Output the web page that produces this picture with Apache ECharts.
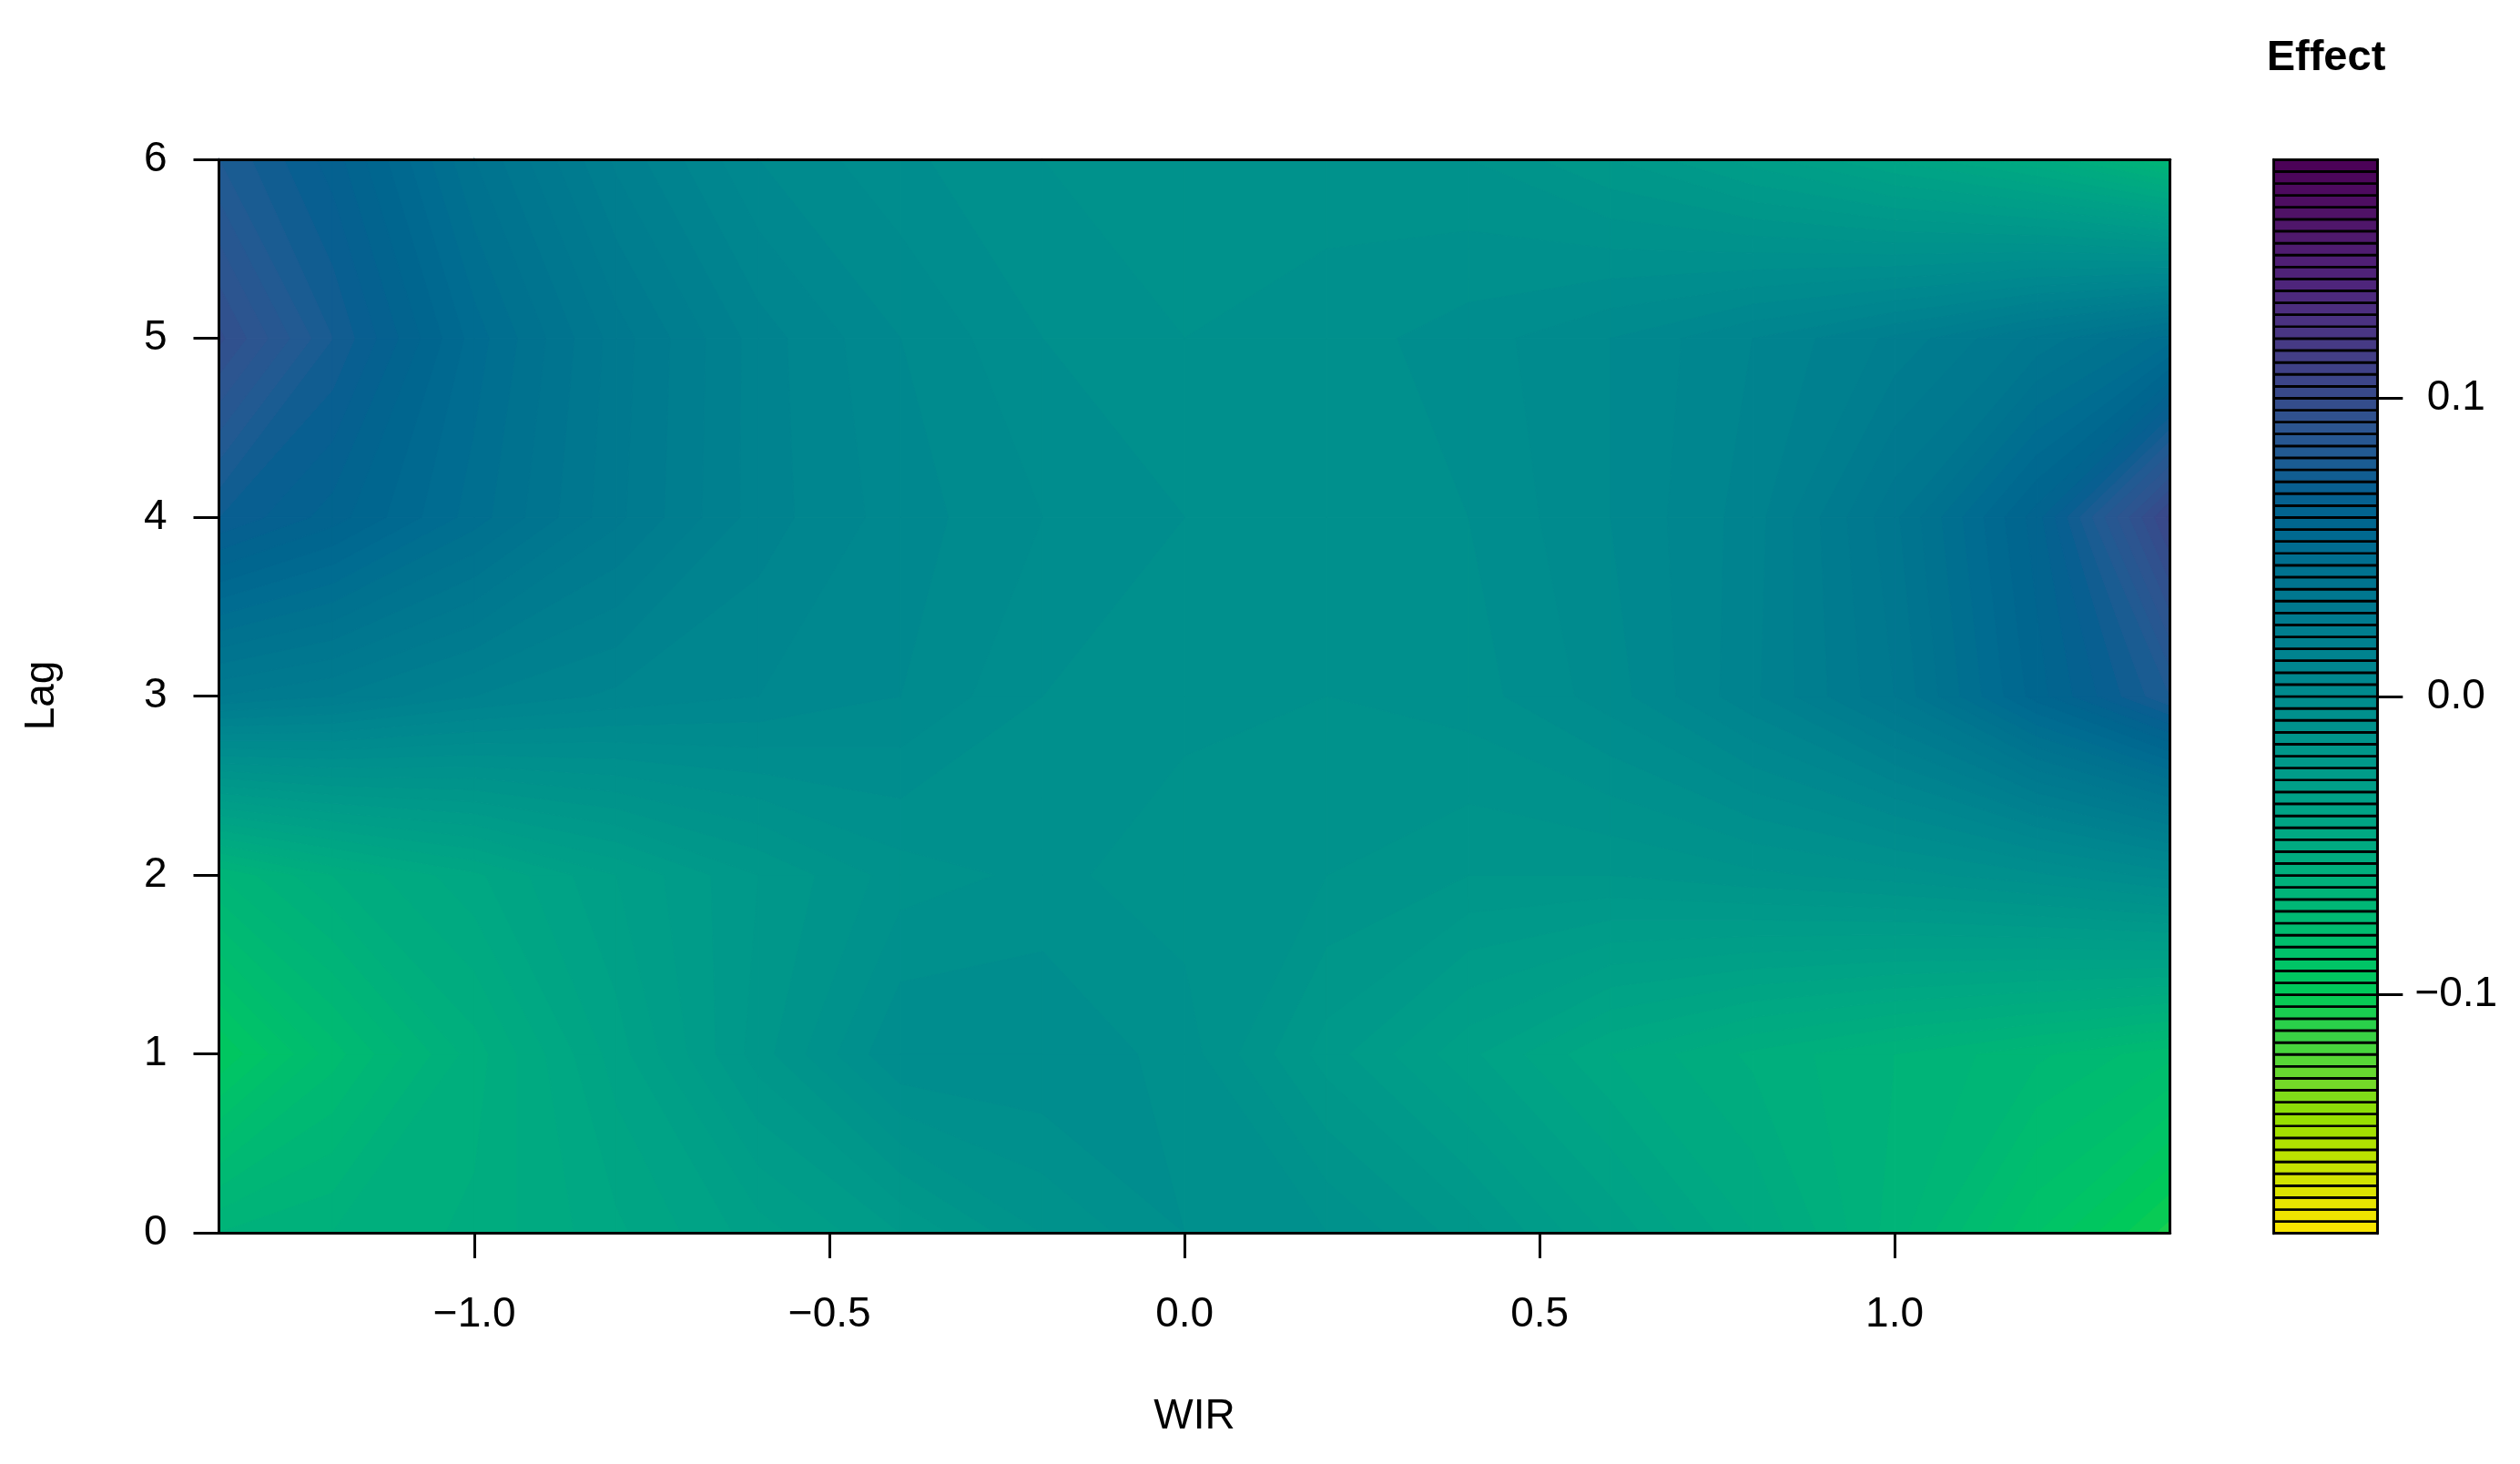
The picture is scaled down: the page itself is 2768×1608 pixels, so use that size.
<!DOCTYPE html>
<html><head><meta charset="utf-8">
<script src="https://cdn.jsdelivr.net/npm/echarts@6/dist/echarts.min.js"></script>
<style>html,body{margin:0;padding:0;background:#fff}#c{width:2768px;height:1608px}</style>
</head><body><div id="c"></div>
<script>
// ---------------- data ----------------
const wir  = [-1.36, -1.2, -1.0, -0.8, -0.6, -0.4, -0.2, 0.0, 0.2, 0.4, 0.6, 0.8, 1.0, 1.2, 1.388];
const lags = [0, 1, 2, 3, 4, 5, 6];
const effectLag0 = [-0.064, -0.060, -0.055, -0.045, -0.034, -0.024, -0.012, -0.004, -0.008, -0.018, -0.033, -0.048, -0.066, -0.088, -0.106];
const effectLag1 = [-0.096, -0.078, -0.058, -0.038, -0.018,  0.000,  0.000, -0.006, -0.022, -0.035, -0.048, -0.057, -0.064, -0.071, -0.079];
const effectLag2 = [-0.068, -0.056, -0.045, -0.032, -0.020, -0.010, -0.007, -0.010, -0.012, -0.016, -0.016, -0.013, -0.010, -0.005,  0.002];
const effectLag3 = [ 0.028,  0.024,  0.016,  0.011,  0.008,  0.004, -0.004, -0.007, -0.008, -0.006,  0.002,  0.015,  0.032,  0.058,  0.080];
const effectLag4 = [ 0.072,  0.062,  0.046,  0.029,  0.014,  0.006,  0.000, -0.004, -0.007, -0.004,  0.004,  0.014,  0.035,  0.062,  0.105];
const effectLag5 = [ 0.097,  0.076,  0.050,  0.030,  0.014,  0.004, -0.004, -0.008, -0.006, -0.002,  0.004,  0.012,  0.021,  0.033,  0.046];
const effectLag6 = [ 0.080,  0.066,  0.040,  0.019,  0.004, -0.003, -0.008, -0.010, -0.010, -0.012, -0.020, -0.030, -0.041, -0.052, -0.070];
const xTicks = [-1.0, -0.5, 0.0, 0.5, 1.0];
const yTicks = [0, 1, 2, 3, 4, 5, 6];
const keyTicks = [-0.1, 0.0, 0.1];
const levelMin = -0.18, levelMax = 0.18, levelStep = 0.004;
const xTitle = 'WIR', yTitle = 'Lag', keyTitle = 'Effect';
// colour key stops (value, colour)
const keyStopValues = [0.180, 0.160, 0.140, 0.120, 0.105, 0.090, 0.080, 0.070, 0.060, 0.050, 0.040, 0.030, 0.020, 0.010, 0.000,
  -0.010, -0.020, -0.030, -0.040, -0.050, -0.060, -0.070, -0.080, -0.090, -0.100, -0.110, -0.120, -0.130, -0.140, -0.150, -0.160, -0.170, -0.180];
const keyStopColors = ['#4b0055', '#4f1468', '#4f237a', '#483884', '#3b4689', '#2c5590', '#1f5b92', '#085f91', '#00658f', '#006c91', '#00738f', '#00798f', '#007f8f', '#00868f', '#008c8e',
  '#00928c', '#00988a', '#009e88', '#00a485', '#00aa81', '#00b07c', '#00b676', '#00bd6f', '#00c466', '#00ca58', '#2ad04a', '#50d63a', '#74da28', '#92de00', '#b0e200', '#cce300', '#e6e400', '#fce500'];

// ---------------- helpers ----------------
const rows = [effectLag0, effectLag1, effectLag2, effectLag3, effectLag4, effectLag5, effectLag6];
const nBands = Math.round((levelMax - levelMin) / levelStep);
const levels = [];
for (let k = 0; k <= nBands; k++) levels.push(+(levelMin + k * levelStep).toFixed(5));

function hexToRgb(h) { return [parseInt(h.slice(1, 3), 16), parseInt(h.slice(3, 5), 16), parseInt(h.slice(5, 7), 16)]; }
function colorAt(v) {
  const n = keyStopValues.length;
  for (let s = 0; s < n - 1; s++) {
    const a = keyStopValues[s], b = keyStopValues[s + 1];
    if ((v <= a && v >= b) || s === n - 2) {
      const t = Math.max(0, Math.min(1, (a - v) / (a - b)));
      const ca = hexToRgb(keyStopColors[s]), cb = hexToRgb(keyStopColors[s + 1]);
      const c = ca.map((x, q) => Math.round(x + (cb[q] - x) * t));
      return 'rgb(' + c.join(',') + ')';
    }
  }
  return keyStopColors[0];
}
const bandColors = [];
for (let k = 0; k < nBands; k++) bandColors.push(colorAt((levels[k] + levels[k + 1]) / 2));

function clipHalf(pts, f) {
  const res = [], n = pts.length;
  for (let k = 0; k < n; k++) {
    const a = pts[k], b = pts[(k + 1) % n];
    const fa = f(a), fb = f(b);
    if (fa >= 0) res.push(a);
    if ((fa >= 0) !== (fb >= 0)) {
      const t = fa / (fa - fb);
      res.push({ x: a.x + (b.x - a.x) * t, y: a.y + (b.y - a.y) * t, z: a.z + (b.z - a.z) * t });
    }
  }
  return res;
}

const cells = [];
for (let j = 0; j < lags.length - 1; j++)
  for (let i = 0; i < wir.length - 1; i++)
    cells.push([(wir[i] + wir[i + 1]) / 2, (lags[j] + lags[j + 1]) / 2, i, j]);

function renderCell(params, api) {
  const i = api.value(2), j = api.value(3);
  const xs = [wir[i], wir[i + 1]], ys = [lags[j], lags[j + 1]];
  const corners = [[0, 0], [1, 0], [1, 1], [0, 1]].map(([a, b]) => {
    const p = api.coord([xs[a], ys[b]]);
    return { x: p[0], y: p[1], z: rows[j + b][i + a] };
  });
  const zs = corners.map(c => c.z);
  const zmin = Math.min.apply(null, zs), zmax = Math.max.apply(null, zs);
  const children = [];
  for (let k = 0; k < nBands; k++) {
    const lo = levels[k], hi = levels[k + 1];
    if (hi < zmin || lo > zmax) continue;
    let poly = clipHalf(corners, p => p.z - lo);
    if (poly.length < 3) continue;
    poly = clipHalf(poly, p => hi - p.z);
    if (poly.length < 3) continue;
    children.push({
      type: 'polygon', silent: true,
      shape: { points: poly.map(p => [p.x, p.y]) },
      style: { fill: bandColors[k], stroke: bandColors[k], lineWidth: 1.2 }
    });
  }
  return { type: 'group', children };
}

const keyBands = [];
for (let k = 0; k < nBands; k++) keyBands.push([0.5, (levels[k] + levels[k + 1]) / 2, levels[k], levels[k + 1], k]);

function renderKey(params, api) {
  const lo = api.value(2), hi = api.value(3), k = api.value(4);
  const p1 = api.coord([0, hi]), p2 = api.coord([1, lo]);
  return {
    type: 'rect', silent: true,
    shape: { x: p1[0], y: p1[1], width: p2[0] - p1[0], height: p2[1] - p1[1] },
    style: { fill: bandColors[k], stroke: '#000', lineWidth: 2.7 }
  };
}

const FONT = '"Liberation Sans", Arial, Helvetica, sans-serif';
const fmtNum = (v, d) => (v < 0 ? '\u2212' : '') + Math.abs(v).toFixed(d);
const boxLine = { show: true, onZero: false, lineStyle: { color: '#000', width: 3 } };
const off = { show: false };

const option = {
  backgroundColor: '#ffffff',
  animation: false,
  grid: [
    { left: 240.5, top: 175.3, width: 2143.2, height: 1178.7, show: false },
    { left: 2497.5, top: 175.3, width: 113.8, height: 1179.4, show: false }
  ],
  xAxis: [
    { gridIndex: 0, type: 'value', min: -1.36, max: 1.388, position: 'bottom', z: 10,
      axisLine: boxLine, splitLine: off,
      axisTick: { show: true, customValues: xTicks, length: 28, lineStyle: { color: '#000', width: 3 } },
      axisLabel: { show: true, customValues: xTicks, margin: 90, verticalAlign: 'middle',
        formatter: v => fmtNum(v, 1), fontSize: 46, color: '#000', fontFamily: FONT } },
    { gridIndex: 0, type: 'value', min: -1.36, max: 1.388, position: 'top', z: 10,
      axisLine: boxLine, splitLine: off, axisTick: off, axisLabel: off },
    { gridIndex: 1, type: 'value', min: 0, max: 1, position: 'bottom', z: 10,
      axisLine: boxLine, splitLine: off, axisTick: off, axisLabel: off },
    { gridIndex: 1, type: 'value', min: 0, max: 1, position: 'top', z: 10,
      axisLine: boxLine, splitLine: off, axisTick: off, axisLabel: off }
  ],
  yAxis: [
    { gridIndex: 0, type: 'value', min: 0, max: 6, interval: 1, position: 'left', z: 10,
      axisLine: boxLine, splitLine: off,
      axisTick: { show: true, customValues: yTicks, length: 28, lineStyle: { color: '#000', width: 3 } },
      axisLabel: { show: true, customValues: yTicks, margin: 57, formatter: v => String(v),
        fontSize: 46, color: '#000', fontFamily: FONT } },
    { gridIndex: 0, type: 'value', min: 0, max: 6, position: 'right', z: 10,
      axisLine: boxLine, splitLine: off, axisTick: off, axisLabel: off },
    { gridIndex: 1, type: 'value', min: levelMin, max: levelMax, position: 'left', z: 10,
      axisLine: boxLine, splitLine: off, axisTick: off, axisLabel: off },
    { gridIndex: 1, type: 'value', min: levelMin, max: levelMax, position: 'right', z: 10,
      axisLine: boxLine, splitLine: off,
      axisTick: { show: true, customValues: keyTicks, length: 28, lineStyle: { color: '#000', width: 3 } },
      axisLabel: { show: true, customValues: keyTicks, margin: 86.5, align: 'center',
        formatter: v => fmtNum(v, 1), fontSize: 46, color: '#000', fontFamily: FONT } }
  ],
  series: [
    { type: 'custom', xAxisIndex: 0, yAxisIndex: 0, data: cells, encode: { x: 0, y: 1 },
      renderItem: renderCell, silent: true, z: 1 },
    { type: 'custom', xAxisIndex: 2, yAxisIndex: 2, data: keyBands, encode: { x: 0, y: 1 },
      renderItem: renderKey, silent: true, z: 1 }
  ],
  graphic: [
    { type: 'text', x: 1312, y: 1556, silent: true,
      style: { text: xTitle, fontSize: 46, fontFamily: FONT, fill: '#000', align: 'center', verticalAlign: 'middle' } },
    { type: 'text', x: 46, y: 764, rotation: Math.PI / 2, silent: true,
      style: { text: yTitle, fontSize: 46, fontFamily: FONT, fill: '#000', align: 'center', verticalAlign: 'middle' } },
    { type: 'text', x: 2555, y: 64, silent: true,
      style: { text: keyTitle, fontSize: 47, fontWeight: 'bold', fontFamily: FONT, fill: '#000', align: 'center', verticalAlign: 'middle' } }
  ]
};
const chart = echarts.init(document.getElementById('c'), null, { renderer: 'canvas', width: 2768, height: 1608 });
chart.setOption(option);
</script>
</body></html>
